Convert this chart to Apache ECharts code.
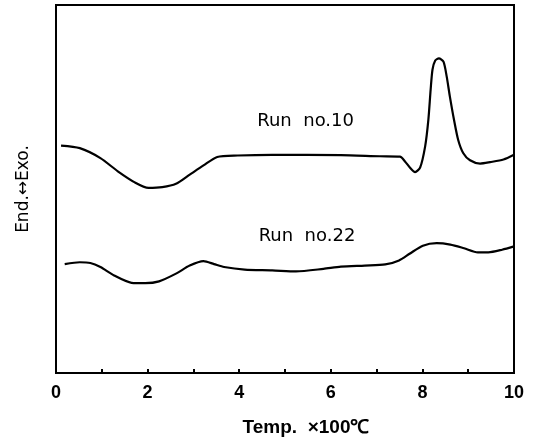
<!DOCTYPE html>
<html>
<head>
<meta charset="utf-8">
<script src="https://cdn.jsdelivr.net/npm/echarts@6/dist/echarts.min.js"></script>
<style>
  html, body { margin: 0; padding: 0; background: #fff; }
  #chart { width: 534px; height: 442px; }
</style>
</head>
<body>
<div id="chart"></div>
<script>
// temperature (x100 C) and signal for Run no.10
const run10Temp = [0.11, 0.52, 0.97, 1.35, 1.72, 2.02, 2.32, 2.62, 2.92, 3.22, 3.52, 3.97, 4.72, 6.22, 7.07, 7.51, 7.62, 7.73, 7.84, 7.95, 8.06, 8.13, 8.18, 8.22, 8.28, 8.36, 8.46, 8.53, 8.6, 8.69, 8.78, 8.89, 9.04, 9.26, 9.48, 9.77, 10];
const run10Val = [61.8, 61.1, 58.4, 54.8, 51.8, 50.3, 50.5, 51.4, 53.9, 56.4, 58.7, 59.1, 59.3, 59.2, 58.9, 58.8, 57.5, 55.8, 54.6, 55.8, 61.6, 68.8, 77.0, 82.4, 84.9, 85.5, 84.6, 80.6, 75.1, 68.8, 63.4, 59.8, 57.8, 56.9, 57.3, 58.0, 59.3];

// Run no.22
const run22Temp = [0.19, 0.52, 0.75, 0.97, 1.27, 1.65, 1.95, 2.25, 2.62, 2.92, 3.22, 3.45, 3.67, 4.12, 4.72, 5.24, 5.84, 6.22, 6.74, 7.19, 7.49, 7.72, 8.01, 8.31, 8.61, 8.91, 9.21, 9.44, 9.74, 10];
const run22Val = [29.6, 30.1, 29.9, 28.8, 26.5, 24.5, 24.4, 24.9, 27.0, 29.2, 30.4, 29.6, 28.8, 28.1, 27.9, 27.6, 28.3, 28.9, 29.2, 29.5, 30.6, 32.4, 34.6, 35.3, 34.9, 33.9, 32.8, 32.8, 33.5, 34.4];

const runNames = ['Run  no.10', 'Run  no.22'];
const runLabelAt = [[5.45, 68.3], [5.48, 37.1]];

const font = "'Liberation Sans', Arial, sans-serif";

function pairs(xs, ys) {
  let out = [];
  for (let i = 0; i < xs.length; i++) out.push([xs[i], ys[i]]);
  return out;
}

function runSeries(idx, xs, ys) {
  return {
    name: runNames[idx],
    type: 'line',
    data: pairs(xs, ys),
    smooth: 0.25,
    showSymbol: false,
    lineStyle: { color: '#000', width: 2.2 },
    markPoint: {
      symbol: 'circle',
      symbolSize: 1,
      itemStyle: { color: 'rgba(0,0,0,0)' },
      label: {
        show: true,
        position: 'inside',
        formatter: runNames[idx],
        color: '#000',
        fontSize: 18,
        fontFamily: "'DejaVu Sans', sans-serif"
      },
      data: [{ coord: runLabelAt[idx] }]
    }
  };
}

let myChart = echarts.init(document.getElementById('chart'));
let option = {
  backgroundColor: '#fff',
  animation: false,
  grid: {
    left: 56,
    right: 20,
    top: 5,
    bottom: 68,
    show: true,
    borderColor: '#000',
    borderWidth: 2
  },
  xAxis: {
    type: 'value',
    min: 0,
    max: 10,
    interval: 2,
    name: 'Temp.  ×100℃',
    nameLocation: 'middle',
    nameGap: 45,
    nameTextStyle: {
      color: '#000',
      fontSize: 19,
      fontWeight: 'bold',
      fontFamily: font,
      padding: [0, 0, 0, 42]
    },
    axisLine: { lineStyle: { color: '#000', width: 2 } },
    axisTick: { inside: true, length: 4, lineStyle: { color: '#000', width: 2 } },
    minorTick: { show: true, splitNumber: 2, length: 4, lineStyle: { color: '#000', width: 2 } },
    splitLine: { show: false },
    axisLabel: {
      color: '#000',
      fontSize: 18,
      fontWeight: 'bold',
      fontFamily: font,
      margin: 11
    }
  },
  yAxis: {
    type: 'value',
    min: 0,
    max: 100,
    name: 'End.↔Exo.',
    nameLocation: 'middle',
    nameGap: 24,
    nameTextStyle: { color: '#000', fontSize: 17, fontFamily: "'DejaVu Sans', sans-serif" },
    axisLine: { show: true, lineStyle: { color: '#000', width: 2 } },
    axisTick: { show: false },
    axisLabel: { show: false },
    splitLine: { show: false }
  },
  series: [
    runSeries(0, run10Temp, run10Val),
    runSeries(1, run22Temp, run22Val)
  ]
};
myChart.setOption(option);
</script>
</body>
</html>
